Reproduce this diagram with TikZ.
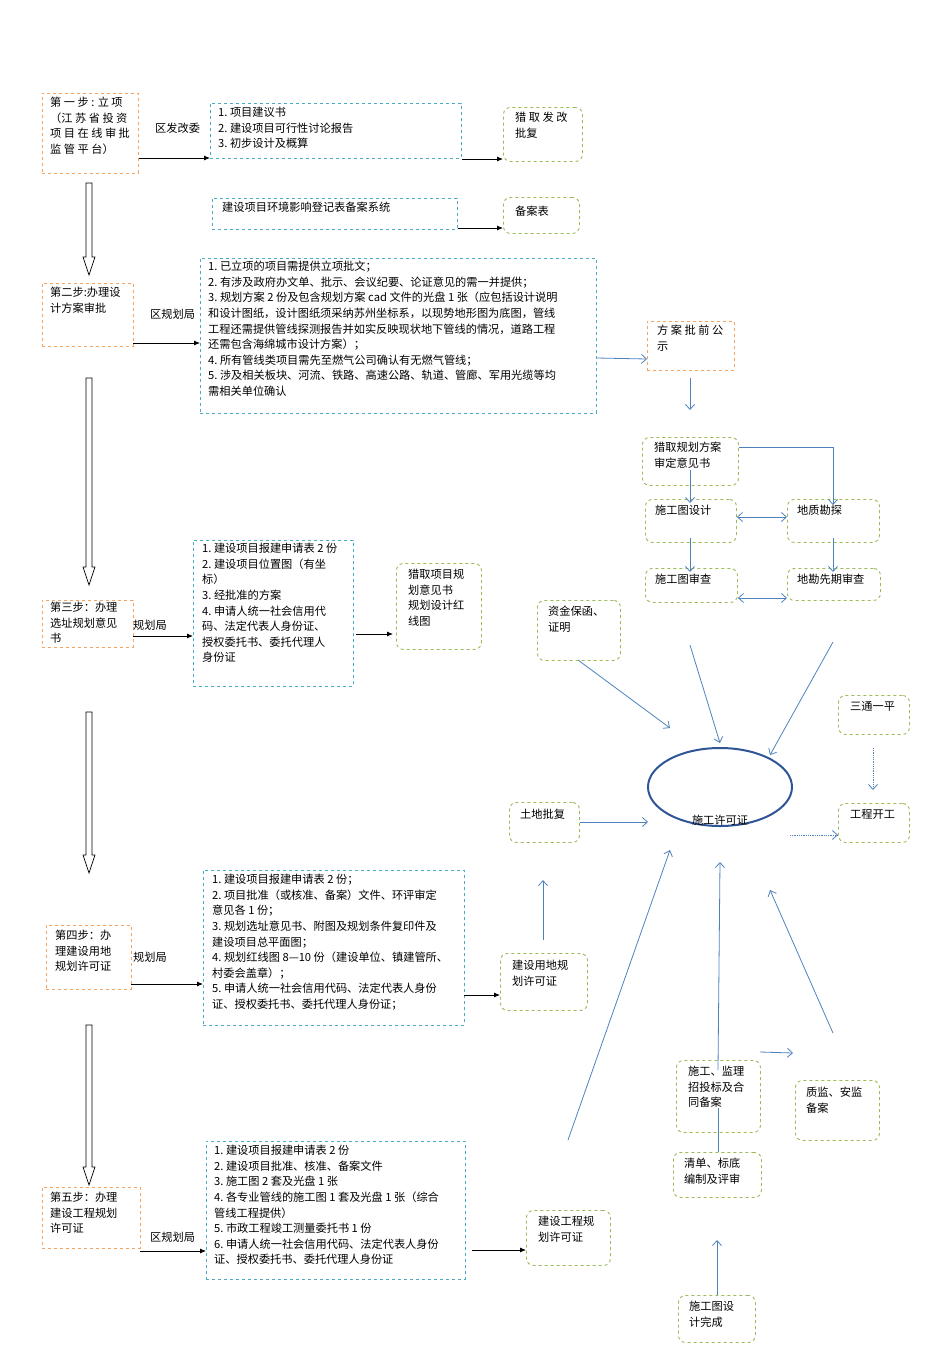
\documentclass[tikz,border=0pt]{standalone}
\usepackage{fontspec}
\setmainfont{Noto Sans CJK SC}
\usetikzlibrary{arrows.meta,shapes.geometric}
\definecolor{oc}{HTML}{F4A460}
\definecolor{bc}{HTML}{4BACC6}
\definecolor{gc}{HTML}{9BBB59}
\definecolor{ac}{HTML}{4F81BD}
\definecolor{ec}{HTML}{2F5597}
\tikzset{
 obox/.style={draw=oc,dashed,line width=0.9pt,anchor=north west,inner sep=0},
 bbox/.style={draw=bc,dashed,line width=0.9pt,anchor=north west,inner sep=0},
 gbox/.style={draw=gc,dashed,line width=0.9pt,rounded corners=7pt,anchor=north west,inner sep=0},
 txt/.style={anchor=north west,align=left,inner sep=0,font=\fontsize{11.2}{15.6}\selectfont},
 karr/.style={-{Latex[length=6pt,width=5pt]},line width=0.8pt},
 barr/.style={-{Straight Barb[length=5pt,width=9pt]},draw=ac,line width=0.8pt},
 dbarr/.style={{Straight Barb[length=5pt,width=9pt]}-{Straight Barb[length=5pt,width=9pt]},draw=ac,line width=0.8pt},
 dotarr/.style={-{Straight Barb[length=5pt,width=9pt]},draw=ac,line width=0.8pt,densely dotted},
}
\newcommand{\hollow}[3]{\draw[line width=0.7pt,fill=white] (#1-3,#2) -- (#1+3,#2) -- (#1+3,#3-18) -- (#1+6,#3-18) -- (#1,#3) -- (#1-6,#3-18) -- (#1-3,#3-18) -- cycle;}
\newcommand{\bx}[6]{\node[#1,minimum width=#4-#2,minimum height=#5-#3] (#6) at (#2,#3) {};}
\begin{document}
\begin{tikzpicture}[x=1pt,y=-1pt]
\useasboundingbox (0,0) rectangle (950,1345);
% step 1
\bx{obox}{42}{93}{138}{173}{s1}
\node[txt] at (50,97) {第 一 步 : 立 项\\（江 苏 省 投 资\\项 目 在 线 审 批\\监 管 平 台）};
\node[txt] (l1) at (155,123) {区发改委};
\bx{bbox}{210}{103}{461}{158}{b1}
\node[txt] at (218,107) {1.\ 项目建议书\\2.\ 建设项目可行性讨论报告\\3.\ 初步设计及概算};
\bx{gbox}{503}{107}{582}{161}{g1}
\node[txt] at (515,112) {猎 取 发 改\\批复};
\draw[karr] (s1.east|-0,158) -- (b1.west|-0,158);
\draw[karr] (b1.east|-0,159) -- (g1.west|-0,159);
\bx{bbox}{212}{198}{457}{229}{b1b}
\node[txt] at (222,202) {建设项目环境影响登记表备案系统};
\bx{gbox}{503}{197}{579}{233}{g2}
\node[txt] at (515,206) {备案表};
\draw[karr] (b1b.east|-0,228) -- (g2.west|-0,228);
\hollow{89}{183}{275}
% step 2
\bx{obox}{42}{283}{133}{346}{s2}
\node[txt] at (50,287) {第二步:办理设\\计方案审批};
\node[txt] at (150,309) {区规划局};
\bx{bbox}{200}{258}{596}{413}{b2}
\node[txt] at (208,261) {1.\ 已立项的项目需提供立项批文；\\2.\ 有涉及政府办文单、批示、会议纪要、论证意见的需一并提供；\\3.\ 规划方案 2 份及包含规划方案 cad 文件的光盘 1 张（应包括设计说明\\和设计图纸，设计图纸须采纳苏州坐标系，以现势地形图为底图，管线\\工程还需提供管线探测报告并如实反映现状地下管线的情况，道路工程\\还需包含海绵城市设计方案）；\\4.\ 所有管线类项目需先至燃气公司确认有无燃气管线；\\5.\ 涉及相关板块、河流、铁路、高速公路、轨道、管廊、军用光缆等均\\需相关单位确认};
\draw[karr] (133,343) -- (b2.west|-0,343);
\bx{obox}{647}{321}{734}{370}{o3}
\node[txt] at (657,325) {方 案 批 前 公\\示};
\draw[barr] (b2.east|-0,358) -- (o3.west|-0,359);
\coordinate (o3b) at (690,378);
\coordinate (g3t) at (690,410);
\draw[barr] (o3b) -- (g3t);
\bx{gbox}{642}{437}{738}{485}{g3}
\node[txt] at (654,442) {猎取规划方案\\审定意见书};
\bx{gbox}{645}{499}{736}{542}{g4}
\node[txt] at (655,505) {施工图设计};
\bx{gbox}{787}{499}{879}{542}{g5}
\node[txt] at (797,505) {地质勘探};
\draw[barr] (690,470) -- (690,503);
\draw[barr] (g3.east|-0,447) -- (833,447) -- (833,505);
\draw[dbarr] (g4.east|-0,517) -- (g5.west|-0,517);
\bx{gbox}{645}{568}{737}{602}{g6}
\node[txt] at (655,574) {施工图审查};
\bx{gbox}{787}{568}{880}{600}{g7}
\node[txt] at (797,574) {地勘先期审查};
\draw[barr] (690,538) -- (690,572);
\draw[barr] (833,538) -- (833,572);
\draw[dbarr] (g6.east|-0,598) -- (g7.west|-0,598);
\bx{gbox}{537}{600}{620}{660}{g8}
\node[txt] at (548,606) {资金保函、\\证明};
% ellipse
\node[draw=ec,line width=2pt,ellipse,minimum width=144pt,minimum height=78pt] (el) at (720,787) {};
\node[txt,anchor=north] (elt) at (720,815) {施工许可证};
\draw[barr] (578,660) -- (670,728);
\draw[barr] (690,645) -- (720,743);
\draw[barr] (833,642) -- (770,755);
\bx{gbox}{838}{695}{909}{734}{g9}
\node[txt] at (850,701) {三通一平};
\bx{gbox}{838}{803}{909}{842}{g10}
\node[txt] at (850,809) {工程开工};
\draw[dotarr] (873,748) -- (873,790);
\draw[dotarr] (790,835) -- (g10.west|-0,835);
\bx{gbox}{509}{802}{579}{842}{g11}
\node[txt] at (520,809) {土地批复};
\draw[barr] (g11.east|-0,822) -- (648,822);
\draw[barr] (568,1140) -- (670,850);
\draw[barr] (718,1070) -- (720,862);
\draw[barr] (833,1033) -- (770,890);
\draw[barr] (760,1052) -- (793,1053);
\bx{gbox}{676}{1060}{760}{1132}{g12}
\node[txt] at (688,1066) {施工、监理\\招投标及合\\同备案};
\bx{gbox}{795}{1080}{879}{1140}{g13}
\node[txt] at (806,1087) {质监、安监\\备案};
\bx{gbox}{673}{1152}{761}{1197}{g14}
\node[txt] at (684,1158) {清单、标底\\编制及评审};
\draw[ac,line width=0.8pt] (718,1152) -- (718,1108);
\bx{gbox}{678}{1295}{755}{1342}{g15}
\node[txt] at (689,1301) {施工图设\\计完成};
\draw[barr] (717,1295) -- (717,1240);
\hollow{89}{378}{585}
% step 3
\bx{obox}{42}{600}{133}{647}{s3}
\begin{scope}
\clip (42,600) rectangle (133,647);
\node[txt] at (50,602) {第三步：办理\\选址规划意见\\书};
\end{scope}
\node[txt] at (133,620) {规划局};
\draw[karr] (133,636) -- (193,636);
\bx{bbox}{193}{540}{353}{686}{b3}
\node[txt] at (202,543) {1.\ 建设项目报建申请表 2 份\\2.\ 建设项目位置图（有坐\\标）\\3.\ 经批准的方案\\4.\ 申请人统一社会信用代\\码、法定代表人身份证、\\授权委托书、委托代理人\\身份证};
\bx{gbox}{396}{563}{481}{649}{g16}
\node[txt] at (408,569) {猎取项目规\\划意见书\\规划设计红\\线图};
\draw[karr] (356,634) -- (393,634);
\hollow{89}{712}{873}
% step 4
\bx{obox}{46}{925}{131}{989}{s4}
\node[txt] at (55,930) {第四步：办\\理建设用地\\规划许可证};
\node[txt] at (133,952) {规划局};
\bx{bbox}{203}{870}{464}{1025}{b4}
\node[txt] at (212,874) {1.\ 建设项目报建申请表 2 份；\\2.\ 项目批准（或核准、备案）文件、环评审定\\意见各 1 份；\\3.\ 规划选址意见书、附图及规划条件复印件及\\建设项目总平面图；\\4.\ 规划红线图 8—10 份（建设单位、镇建管所、\\村委会盖章）；\\5.\ 申请人统一社会信用代码、法定代表人身份\\证、授权委托书、委托代理人身份证；};
\draw[karr] (131,984) -- (b4.west|-0,984);
\bx{gbox}{500}{953}{587}{1010}{g17}
\node[txt] at (512,960) {建设用地规\\划许可证};
\draw[karr] (464,995) -- (g17.west|-0,995);
\draw[barr] (543,940) -- (543,880);
\hollow{89}{1025}{1185}
% step 5
\bx{obox}{42}{1187}{140}{1248}{s5}
\node[txt] at (50,1192) {第五步：办理\\建设工程规划\\许可证};
\node[txt] at (150,1232) {区规划局};
\bx{bbox}{206}{1141}{465}{1279}{b5}
\node[txt] at (214,1145) {1.\ 建设项目报建申请表 2 份\\2.\ 建设项目批准、核准、备案文件\\3.\ 施工图 2 套及光盘 1 张\\4.\ 各专业管线的施工图 1 套及光盘 1 张（综合\\管线工程提供）\\5.\ 市政工程竣工测量委托书 1 份\\6.\ 申请人统一社会信用代码、法定代表人身份\\证、授权委托书、委托代理人身份证};
\draw[karr] (140,1251) -- (b5.west|-0,1251);
\bx{gbox}{526}{1210}{610}{1265}{g18}
\node[txt] at (538,1216) {建设工程规\\划许可证};
\draw[karr] (472,1250) -- (g18.west|-0,1250);
\end{tikzpicture}
\end{document}
